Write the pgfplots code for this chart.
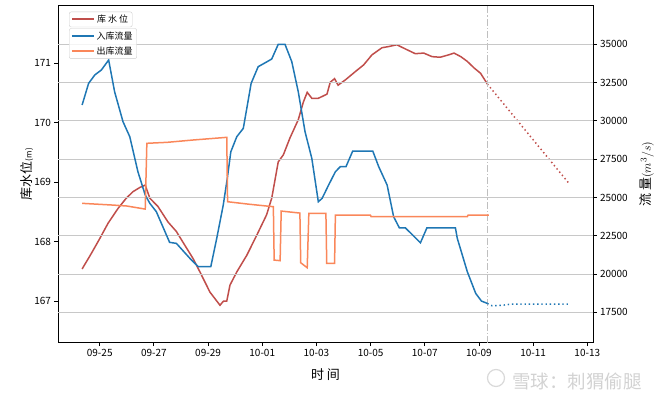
\documentclass[border=0pt]{standalone}
\usepackage{fontspec}
\setmainfont{Noto Sans CJK SC}
\usepackage{pgfplots}
\pgfplotsset{compat=1.18}
\definecolor{cRed}{RGB}{192,78,75}
\definecolor{cBlue}{RGB}{31,119,180}
\definecolor{cOrange}{RGB}{250,135,90}
\definecolor{cGrid}{RGB}{200,200,200}

\begin{document}
\begin{tikzpicture}
\pgfplotsset{
  common/.style={
    scale only axis, width=535pt, height=337.2pt,
    xmin=-1.54, xmax=18.21,
    tick align=outside, major tick length=3.5pt,
    tick style={black, line width=0.8pt},
    axis line style={black, line width=0.8pt},
    tick label style={font=\fontsize{10}{12}\selectfont},
    legend cell align=left,
    scaled ticks=false,
    legend image code/.code={\draw[##1] (0pt,0pt) -- (22pt,0pt);},
  },
  leg/.style={anchor=north west, draw=black!20, rounded corners=2pt,
    fill=white, fill opacity=0.8, text opacity=1,
    font=\fontsize{9}{10}\selectfont, inner xsep=2pt, inner ysep=1pt, row sep=2pt},
}
% ---------- left axis: water level ----------
\begin{axis}[common,
  ymin=166.30, ymax=171.97,
  tick pos=left,
  xtick={0,2,...,18},
  xticklabels={09-25,09-27,09-29,10-01,10-03,10-05,10-07,10-09,10-11,10-13},
  ytick={167,168,169,170,171},
  yticklabels={167,168,169,170,171},
  xlabel={时\ 间},
  xlabel style={at={(axis description cs:0.5,-0.0958)}, anchor=center, font=\fontsize{13}{14}\selectfont},
  ylabel={库水位{\fontsize{8}{8}\selectfont (m)}},
  ylabel style={at={(axis description cs:-0.058,0.5)}, anchor=center, font=\fontsize{13}{14}\selectfont},
]
\addplot[cRed, line width=1.5pt] coordinates {
(-0.65,167.54) (-0.31,167.80) (0,168.05) (0.31,168.31) (0.68,168.56) (0.98,168.73)
(1.23,168.84) (1.48,168.91) (1.68,168.95) (1.85,168.73) (2.15,168.59) (2.52,168.33)
(2.83,168.17) (3.14,167.94) (3.44,167.72) (3.70,167.49) (4.07,167.15) (4.44,166.93)
(4.57,167.00) (4.69,167.00) (4.81,167.27) (5.06,167.49) (5.43,167.77) (5.80,168.11)
(6.16,168.45) (6.35,168.73) (6.59,169.34) (6.78,169.46) (7.02,169.74) (7.33,170.05)
(7.52,170.35) (7.66,170.51) (7.83,170.41) (8.07,170.41) (8.21,170.44) (8.39,170.48)
(8.51,170.68) (8.67,170.74) (8.80,170.63) (9.07,170.72) (9.44,170.86) (9.74,170.97)
(10.05,171.14) (10.42,171.26) (10.67,171.28) (10.97,171.31) (11.28,171.24) (11.65,171.16)
(11.96,171.17) (12.27,171.11) (12.57,171.10) (12.88,171.14) (13.08,171.17) (13.33,171.11)
(13.57,171.03) (13.82,170.92) (14.06,170.83) (14.31,170.65)
};
\addplot[cRed, line width=1.5pt, dash pattern=on 1.4pt off 2.8pt] coordinates {
(14.31,170.65) (17.32,168.98)
};
\addplot[black!25, line width=1pt, dash pattern=on 7pt off 2pt on 1.2pt off 2pt] coordinates {
(14.33,166.30) (14.33,171.97)
};
\end{axis}
% ---------- right axis: flow ----------
\begin{axis}[common,
  ymin=15514, ymax=37534,
  axis x line=none,
  axis y line*=right,
  ytick={17500,20000,22500,25000,27500,30000,32500,35000},
  yticklabels={17500,20000,22500,25000,27500,30000,32500,35000},
  ymajorgrids,
  grid style={cGrid, line width=1pt},
  ylabel={流\ 量$(m^3/s)$},
  ylabel style={at={(axis description cs:1.101,0.5)}, anchor=center, font=\fontsize{13}{14}\selectfont},
  legend style={leg, at={(axis description cs:0.0206,0.9324)}},
]
\addplot[cBlue, line width=1.5pt] coordinates {
(-0.65,31035) (-0.41,32450) (-0.18,33000) (0.06,33320) (0.33,33975) (0.55,31900)
(0.86,29945) (1.11,28965) (1.41,26680) (1.68,25160) (1.85,24615) (2.09,24070)
(2.58,22067) (2.83,22000) (3.33,21020) (3.64,20474) (4.10,20474) (4.32,22330)
(4.56,24500) (4.71,26250) (4.84,27985) (5.06,28965) (5.30,29510) (5.43,30820)
(5.59,32450) (5.85,33540) (6.14,33825) (6.35,34040) (6.59,35000) (6.84,35000)
(7.09,33865) (7.33,31900) (7.58,29290) (7.83,27550) (8.07,24720) (8.21,24940)
(8.45,25810) (8.70,26680) (8.88,27005) (9.09,27005) (9.34,28030) (10.08,28030)
(10.30,27005) (10.61,25810) (10.85,23740) (11.06,23020) (11.28,23020) (11.84,22040)
(12.08,23020) (13.13,23020) (13.20,22330) (13.57,20150) (13.88,18735) (14.09,18235)
(14.31,18080)
};
\addlegendentry{入库流量}
\addplot[cOrange, line width=1.5pt] coordinates {
(-0.65,24615) (0.5,24500) (1.0,24440) (1.68,24240) (1.74,28535) (2.5,28600)
(3.44,28750) (4.69,28925) (4.72,24720) (5.5,24560) (6.16,24440) (6.41,24395)
(6.44,20910) (6.66,20870) (6.70,24110) (7.39,23980) (7.42,20735) (7.66,20410)
(7.72,23960) (8.35,23960) (8.38,20700) (8.67,20700) (8.70,23850) (9.99,23850)
(10.02,23740) (13.57,23740) (13.60,23850) (14.37,23850)
};
\addlegendentry{出库流量}
\addplot[cBlue, line width=1.5pt, dash pattern=on 1.4pt off 2.8pt, forget plot] coordinates {
(14.31,18080) (14.49,17925) (14.91,17970) (15.20,18035) (17.32,18035)
};
\end{axis}
% ---------- legend-only axis for the water level ----------
\begin{axis}[common, hide axis,
  ymin=166.30, ymax=171.97,
  legend style={leg, at={(axis description cs:0.0206,0.9816)}},
]
\addlegendimage{cRed, line width=2pt}
\addlegendentry{库\ 水\ 位}
\end{axis}
% watermark
\draw[gray!30, line width=1.2pt] (438pt,-35.3pt) circle (8.5pt);
\node[anchor=west, text=gray!35, font=\fontsize{18.5}{20}\selectfont, inner sep=0pt] at (454pt,-38.3pt) {雪球：刺猬偷腿};
\pgfresetboundingbox
\path[use as bounding box] (-58pt,-49.3pt) rectangle (604pt,342.7pt);
\end{tikzpicture}
\end{document}
